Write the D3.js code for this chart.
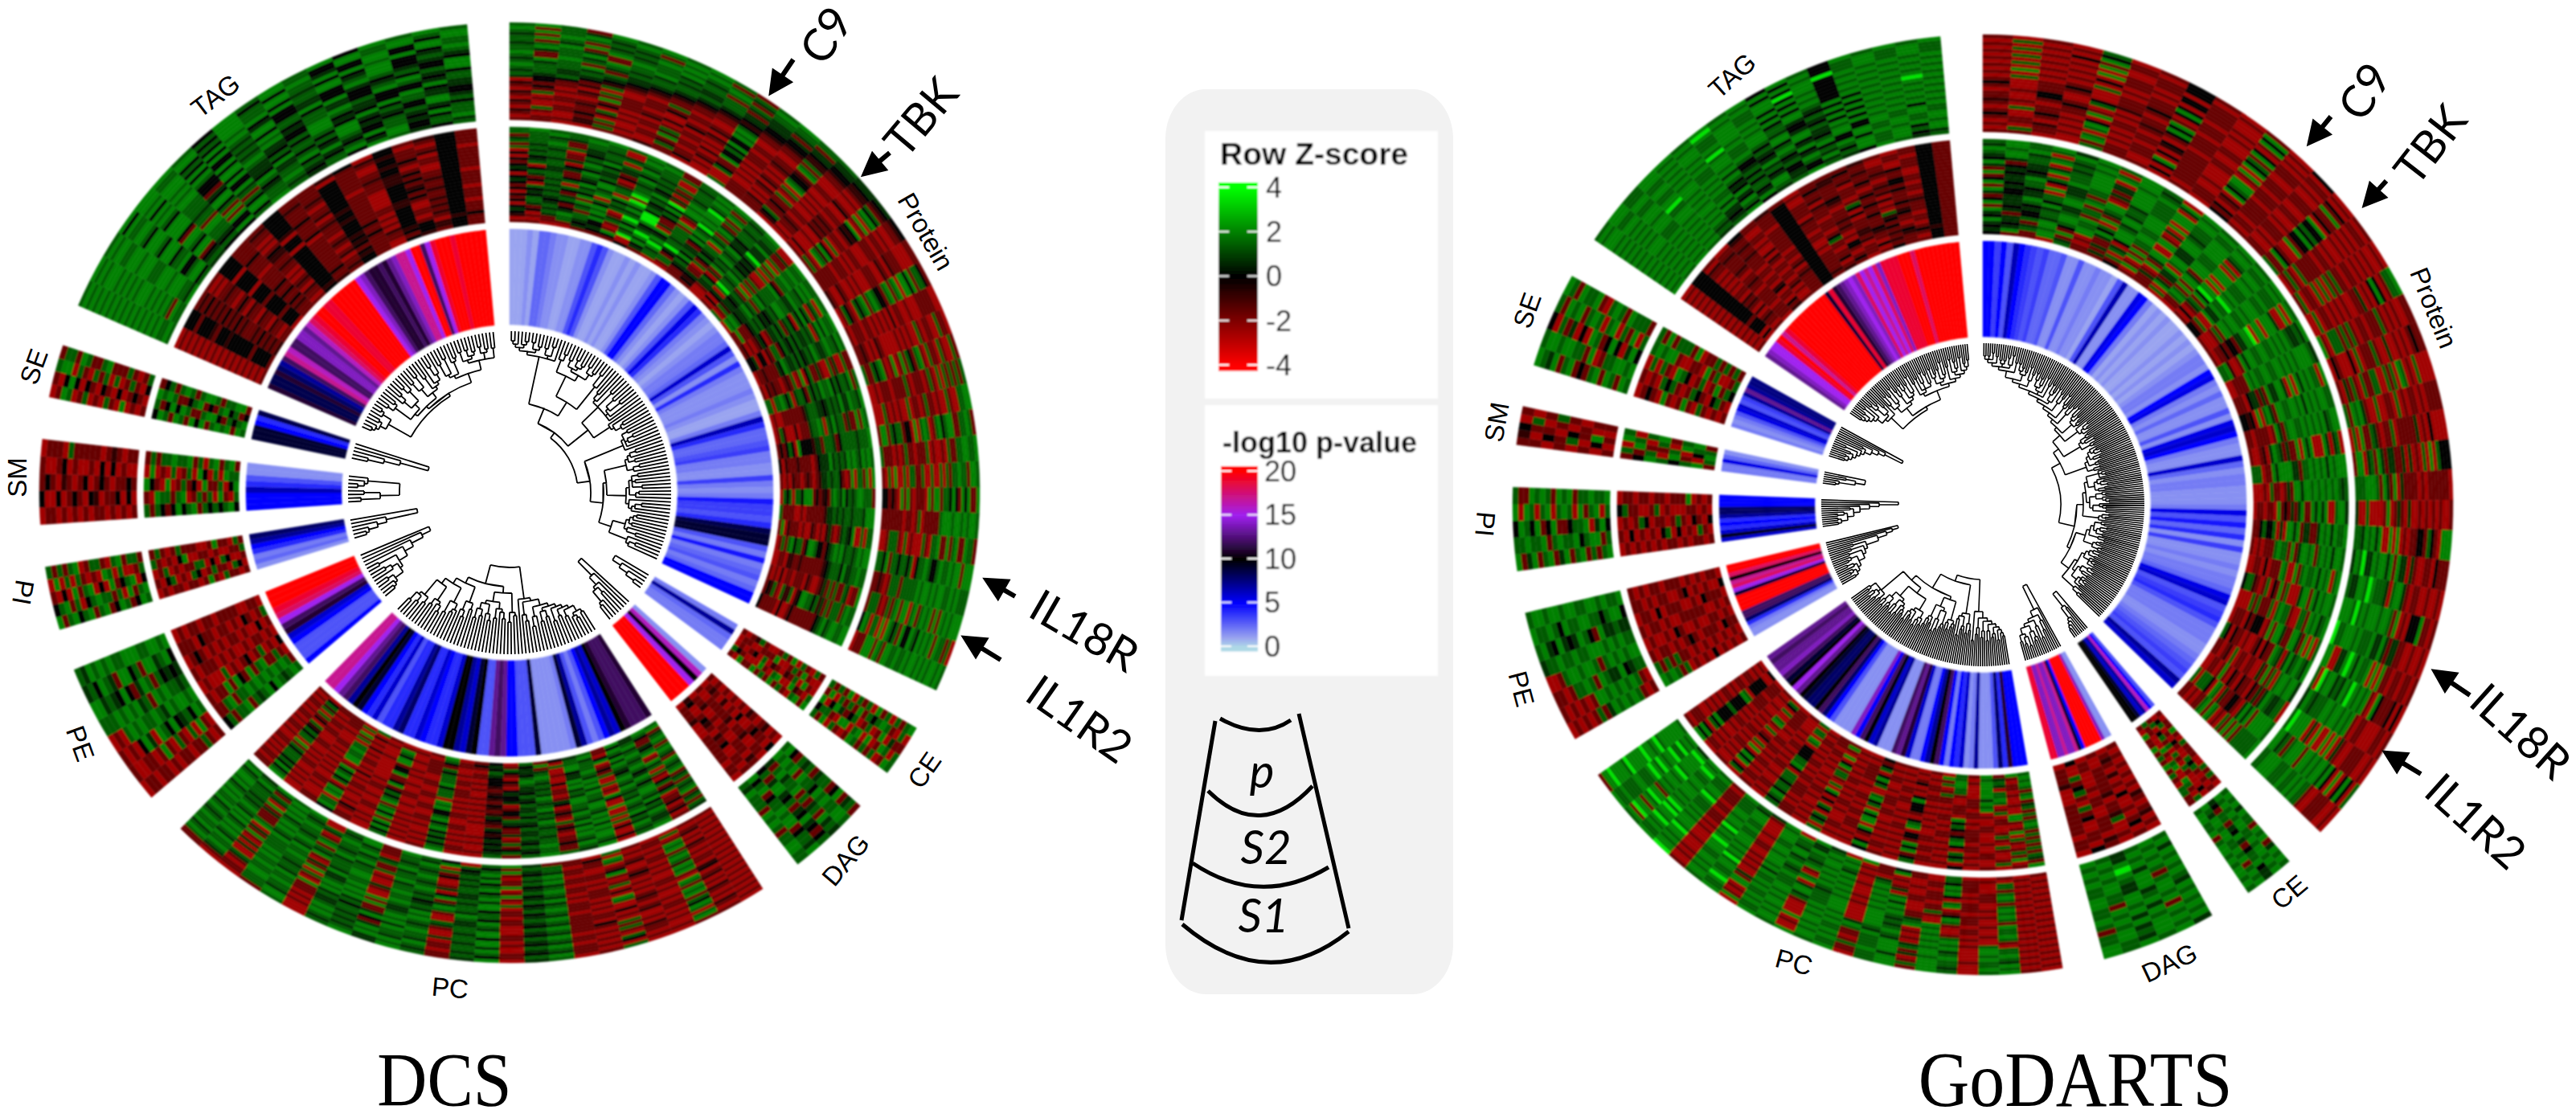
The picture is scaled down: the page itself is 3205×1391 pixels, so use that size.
<!DOCTYPE html>
<html>
<head>
<meta charset="utf-8">
<script src="https://cdnjs.cloudflare.com/ajax/libs/d3/7.8.5/d3.min.js"></script>
<style>
html, body { margin: 0; background: #fff; }
text { font-family: "Liberation Sans", sans-serif; fill: #000; }
.note { font-family: Lato, sans-serif; }
.big { font-family: "Liberation Serif", serif; }
</style>
</head>
<body>
<div id="graphs"></div>
<script>
var sectorNames = ["Protein", "CE", "DAG", "PC", "PE", "PI", "SM", "SE", "TAG"];
var zTicks = [4, 2, 0, -2, -4];
var pTicks = [20, 15, 10, 5, 0];
// z-score for each digit used in the heatmap strings below
var zLevels = [-4, -2.5, -1.6, -0.7, 0, 0.7, 1.4, 2, 3.6];

// dendrograms: merge height between neighbouring leaves, one base-36 digit each
var dcsTreeProtein = "3454363547 4637m64a57 4658465h48 r9bc6c7a6b cjdc9at9b8 abcp9bcad9 bkacbc9dab ed9bclabcb dc9hb8a";
var dcsTreeCE = "c963";
var dcsTreeDAG = "keb8a65";
var dcsTreePC = "7867a8b9c8 dac9eb8gac hrcdajbdeb gacfbdalce 9bja9c8h79 a8f79685";
var dcsTreePE = "4564975a4dgkn";
var dcsTreePI = "458bl";
var dcsTreeSM = "4a5g356";
var dcsTreeSE = "5afo";
var dcsTreeTAG = "3454743f46 5c75a46d58 4b6a947e59 4a65b47465 846585";

var godTreeProtein = "4545364756 5746385a57 687b597c68 a79b6c8d7a 9c7e8b9f7a bgac9h8bca dbcid9bacl bcedafcbnd bcaedbfcdg ceqdcbdhec dbfceidcfd cbhedcgcjb dceldcfbdc ecgdbhcdeb ckdbecfdcb dgbcaedbfc bacdbhc9a";
var godTreeCE = "f9a6543";
var godTreeDAG = "mea7c59b658a47586";
var godTreePC = "9ab8ca9db8 eb9fcah8rb dagcbf9epc bdacjbaf9c 8gacb9k8a9 7c8b9a7g89 a7b69c78a6 8i79685796 7";
var godTreePE = "5645764856 a6b7c8gjln";
var godTreePI = "565857a9cfio";
var godTreeSM = "45a7d";
var godTreeSE = "56576849a9cegm";
var godTreeTAG = "4564738a46 597bg85a69 4c68b57a69 4f7b6a85a6 9c587a6948 b6a4857948 675";

// -log10 p-values, clockwise inside each sector
var dcsPProtein = [1,1,1,1.5,1,2.5,2.5,2,1.5,1.5,1,1,1.5,1.5,3,4,3,1.5,1,1,1.5,1,1.5,1,1,1.5,3,5,5,2.5,1.5,1,1.5,3,5.5,4,2,1.5,1,1.5,2,2,2.5,6,3,1.5,4,2,1.5,1.5,1.5,2,1.5,1,1,2,6.5,4,2.5,2.5,3,3.5,2,2,1.5,1.5,3.5,2,1.5,2,4.5,3.5,3.5,3,4,8.5,9,9,3,2,4.5,2,2.5,3,2,2.5,5,5];
var dcsPCE = [2,7,2.5,2,2];
var dcsPDAG = [1.5,16,10,15,20,20,20,20];
var dcsPPC = [11,12,12,12,11,10,6,7,5,3,2,3,7,9,2,1.5,1.5,1.5,1.5,1.5,9,3,3,3,5,5,13,12,13,3,3,10,9,6,7,10,10,6,4,4,5,6,4,4,8,7,4,4,3,6,4,5,9,10,7,12,13,15,17,17];
var dcsPPE = [5,3,3,3,5,6,11,12,15,18,19,20,20,20];
var dcsPPI = [1.5,2.5,2,4,5,7,8];
var dcsPSM = [5,5,5,6.5,4,3,1.5,1.5];
var dcsPSE = [9,9,9,5,4,8.5];
var dcsPTAG = [11,8.5,8.5,11,8,7,12,17,16,12,12,14,14,13,16,18,19,20,20,19,19,20,20,20,20,20,20,15,14,12,11,11,12,11,13,14,17,17,15,20,20,12,15,19,20,20,20,19,20,20,20,20,20,20];

var godPProtein = [5,5,3.5,5,3,6.5,5,4,3.5,3,3.5,2.5,2.5,3,1.5,1.5,3,1.5,1.5,2,1.5,1.5,1,3,6.5,1.5,1.5,5.5,5,2,1,1.5,1,1.5,1,1,1.5,1,1.5,1,1.5,2,2,1.5,5,5.5,2,1.5,2.5,1.5,1.5,3,1.5,5.5,6,5,2,1.5,1.5,6,2.5,1.5,2,2,1.5,1.5,1.5,2,5.5,3,4.5,2.5,4,1.5,3.5,1.5,1.5,2,1.5,2,2,2.5,5.5,6,3,3.5,4,3,2,2,2,1.5,1.5,2,2.5,3,3.5,3,7,6];
var godPCE = [3,5,16,7,6,9,10,10];
var godPDAG = [1.5,1.5,14,20,20,20,20,20,5,9,17,14,14,17,14,14,19,19];
var godPPC = [5,5,5,11,4,8,3,1.5,1.5,1.5,7,2,1.5,6,4,5,2,5,12,10,7,5,2,2,6,11,13,12,1.5,1.5,1.5,7,6,10,12,5,14,1.5,1.5,1.5,1.5,3,5,8,12,10,8,8,9,10,13,15,10,9,12,14,13,13,12,13];
var godPPE = [1.5,1.5,2,4,8,12,12,20,20,20,20,9,15,18,17,10,18,20,20];
var godPPI = [6,9.5,6,4,5,4,7,8,8,5,5,5];
var godPSM = [2,2,5.5,2.5,1.5];
var godPSE = [2,1.5,2,3,5.5,6,3,3.5,7,13,7,7.5,7.5];
var godPTAG = [13,14,15,15,19,20,17,19,20,20,20,20,20,20,20,20,20,20,20,9,19,11,12,13,14,15,14,18,15,17,15,18,14,19,19,19,19,20,20,20,18,20,20,20,20,20,20,20,20,20,20];

// heatmaps: each string is one ring row from inside to outside, read coarsely by eye
var dcsS2Protein = [
"221122242112212612241261124216211224","112254415622411172342162241162721142","322645714662314267152311623242162232",
"415654287564421672213261342162322162","546764165725554362142362162312261322","425567257846255542242272142261273112",
"156425678654261554312262113261243261","465267546787146455532142372142162234","264456275564618566425262142271262131",
"445677184466256675164312242372123261","156524667755426556267252242272142212","445276558165675264526663241122372234",
"266441678562456725545165532242272142","415667458264567164665246654322162372","546156774267655675456726655532242272",
"425675186425676256644166725543142162","156447625677164665266445665625322162","466257684416755267544665167565543242",
"545264576725564167665254665676254362","415576265458675166456275556665165532","266445167876244676155566725456276254",
"456165455277656145667265546275566625","145576264566758625456176665146676266","466254576177545267765145667266554627",
"156267545567265766415667266755467265","665145666258665176656245567166765266","256656175665267665177565266676155667",
"667256656166755267556167255676166527","566265566167665276676156767265676166","265566176656266567165676266767167276",
"667676167267656166767225767167676267","676667676266767176676267676727676767"];
var dcsS1Protein = [
"221122321162211222312261126242162241","122361124112232162221221172142162672","211322162212241322162322172622243662",
"321261232112362112142261622142672612","162411221361122172322142261722621267","212232172241223162211262142112662167",
"311261232122142231162172261172266217","122312261321221172142321162621146672","212241122172322142261212226172666217",
"361122312241162312172122142622162676","122272231142311261221172142611246762","241322114261221312162112611222166247",
"322162212342162221171126172226116767","142311241172211322162172212621146726","544261222342172212241221262112666176",
"656432162241261121243162176172267647","565543221172342241221242261622176746","665654322162241231162122612172667276",
"766565432271231142172261221172647667","656725543261122172321172261626746746","576256654342172412261126172167267677",
"627665665432261221172612241667276767","726576566543221172311261166247767276","656726755654361112271126172676267767",
"676527665654432261271221672647676276","567276656625432172242216226727766727","625765676255543241172162126676277676",
"676256765665254361122126167647276767","527665676726554322162612667276727667","676756267656625432162216676727676726",
"726567676267665543241262766727676767","676276767626766554221126727676276716"];
var dcsS2CE = ["21162","12241","22127","31212","61412","22117","12672","12126","27312","61267","21172","72316","16212","62671","27136","12727","61212","21167"];
var dcsS1CE = ["62746","27162","61467","26721","72516","16272","62471","27612","62167","16276","74612","26176","67212","16726","62171","21562","66217","71266"];
var dcsS2DAG = ["212131","121242","231212","122312","212123","132141","212231","122121","213212","141232","312122","212142","123212","241212","321221","122122","212312","141221"];
var dcsS1DAG = ["675476","762645","476267","267576","675726","526746","676562","267467","562676","646267","672576","265472","476726","762546","267467","575267","676456","265676"];
var dcsS2PC = [
"6757265426142172112612212","7654276174254261221162241","2467156625642242172312162","5276467155461122161172231",
"6254767164252162241221162","7567164276142242171162212","6475275167441162172311261","2667465156242261221161122",
"6756257465131261141261241","7165676155422172241172212","6274167264531242171262162","5766175256441261121261131",
"2547656175432261221172142","7656175264521162141271261","6175267556142212172112242","5667167465231171221321162",
"6246756175422261242172161","7165476256431172162241212","2476175464252242141162171","5675167256641241261271221",
"6267756175532161172242162","2456175664421172121161242","6675167256251242261211261","5146675465241261172132162",
"6267157265531172242172161","7254676156142241171261242","2476167265251161221172161","5165476264642242172411242",
"6257175476251161241261172","2456167265441242172161241","6165456264652261241272162","5276175676261172161242172"];
var dcsS1PC = [
"2211261225761467276176756","1162114266246756275167567","2212272165764176256656275","1321162254275665167567656",
"2172211276156256576176567","1261321165275467656267167","2172142276246175265665766","1322172254765166276756257",
"2261221165176256657267565","1172412276246567165676256","2261221264765175266567267","1132162155275466176756276",
"2271212276156756176275667","1261132154675267565167756","2172211265176546267566176","1322172276246756175276567",
"2411261264265667165766275","1172312155167256776166756","2261211276246175267657267","1321142265275165776266176",
"2172212254165676257167565","1261321276156567265756176","2172114265176256546276567","1322162254275167765267156",
"2261221176246175465266176","1142162265176567256176667","2271321254275166567267565","1162212176156256756167276",
"2311261265176275667256167","1261142254265167756176256","2172211276246256565176222","1221162165175267576162112"];
var dcsS2PE = ["62141261","76212122","67621412","56212121","67262141","76721212","47612122","76241212","67721222","56212121","67421212","26712122","76261221","62712142","67212212","26212421","62121222","42212121"];
var dcsS1PE = ["21676547","12765476","27476567","61676457","26567676","21476276","12757627","26462767","21676547","12765276","27167476","12576727","21767456","22476567","12167676","21216547","21126765","12216756"];
var dcsS2PI = ["21262","14126","26121","21412","62612","12127","26412","72121","21621","14612","26212","21272","12146","21212","26121","14612","21226","12162"];
var dcsS1PI = ["67462","76126","42716","27612","61467","76216","42761","26172","76416","67126","26712","74621","61267","46716","72162","67416","26172","74216"];
var dcsS2SM = ["46762","71467","62176","47612","61267","46216","62741","26176","72412","61267","47626","76216","42167","26716","46126","67212","21476","62712"];
var dcsS1SM = ["21212","14412","21221","14212","22143","12212","21441","23212","14122","21412","12212","24122","12216","21341","14122","21212","21412","14221"];
var dcsS2SE = ["6742","7627","2467","7646","6276","7462","6726","2747","7627","4276","7262","2646","6727","7426","2762","6476","7264","4672"];
var dcsS1SE = ["2146","1212","2421","1262","7126","1412","2162","6212","1467","2126","1262","6412","2126","1467","6712","7476","2176","1262"];
var dcsS2TAG = [
"223212243242143242","142242132342124342","243142242232244342","142243244242234134","243242342122342242",
"142324142342141342","224142242234242242","142242342142142341","243244242232241242","142342142344141342",
"242142242242232242","142224142142234241","243242242242142342","142342242232144242","234142341242143242",
"142242214342142342","243412242232144241","142241342142232242","224142342342234142","132242412241232142",
"243242234242341242","142342142142242242","243214242242234142","142242142342142341","224142242242142242",
"142242243242232142","243142342212341242","142242242234142342"];
var dcsS1TAG = [
"667654467656476546","765466746546757465","676754476654647467","626745476765476546","767626745647546476",
"677476264675646546","767476726564754654","676747267546745476","767667654764756475","677672475466474654",
"767476745647547654","676726745467454745","776745476547654475","676776547546764456","767476276756547646",
"677676475646546754","767776446764745467","676747475467454647","767767646745476547","677476745745467454",
"767667476546757465","676776747476747456","776747476745476747","677677647676747476",
"767667467676547476","676776747647476747","767476767476476767","676777647676747676"];

var godS2Protein = [
"422162242211242261242261122141162162","572752521262141161242161221161242112","456721267212421272231161242261211261",
"545672512576161232142212161231242262","752721261257212412412321242126123161","456747257126516212572126242412421242",
"524567512752672427512572162126216712","754676747257257476261752716262421276","245676472572757257572671257212412167",
"754567676717476576257572416242412412","456752176767867576725275276726121257","257456767175767767572572572671242126",
"545676257172786767576257257126712421","745672576757176876767257572167241242","254167676757767176767725725716721241",
"746756757257176767576167257216725126","456152767176767767176767257612572412","257456167576767176767576726751267257",
"745676257176767767176767527671252572","254167576767176776757176752676716257","545767276157676767576167576726751572",
"725567576767167576767176767572576726","456157576767576167676757176757257676","576767176767676157767576157676767576",
"675656767176766757675167675767176576","767167676576767167676576767175767676","576676175767676756167675767676157676",
"676757676176767675767176576767675167"];
var godS1Protein = [
"221162212142261217126126565678765676","162122141221222612412676167576717876","212272112242126161257176156576186757",
"123161242212172216126717678767165767","221212272121241226167257165787576727","412161212132126126125267175667576767",
"214272142212212612412626157876756176","162141212172212126161572176767867576","212212232142272612621257217676757176",
"321272142162122126126125717676576727","212421212171242612261252175676767176","214212321272141221261257217567687176",
"124161242212172612212621572175676767","212143272122242212612125217675767176","412212142171261221261252125767176767",
"212412272212142122126212515725767176","161212421272141252161252121572172576","212161212142271212512212125215721252",
"171212242161212126171221242125212171","212141272121241212162512141212272141","161212141272122141212161221242141212",
"212172212142121272121212162141221272","161212142212272141212172242141221212","212171242121121212161412121272121242",
"161421212172242121212162214121242171","212172242141212161412142172121212141","161242141272121262212142172212141212",
"212161242121412172212141272121212161"];
var godS2CE = ["21262","14621","26127","21412","72612","21217","14672","62126","21612","21267","26172","14616","16212","62171","21166","62126","21412","12162"];
var godS1CE = ["67576","76467","67257","76676","57676","76267","67572","67476","26767","76567","67276","76467","27676","57627","76767","67476","76567","67576"];
var godS2DAG = ["212141","121212","231212","122162","212123","132141","212261","122121","213212","141262","312122","212142","123212","216212","321221","141122","212312","121241"];
var godS1DAG = ["676567","767576","576767","767876","675767","767676","627576","767567","675767","576726","767676","675767","727576","676762","767576","677676","767567","576767"];
var godS2PC = [
"6727261212241122162112141","7256167121122272211261212","6167272212241122161242211","7257176121162211261211242",
"6217161242212172211261241","2167162211242212172212142","6267126122172141261211242","7175212212142272112161241",
"2167212241261121241272212","5216221172112262142121262","6127122242211261242112171","2161221141261121241261242",
"6712212241272212162212141","2721172122142161261121242","6221241211261212172242142","7112162142212171241212261",
"6212241261171242212161242","2721222172142212162212141","6161242112272141261171242","2621261241171212261212141",
"6212172242212161242242172","2161241121172141261171241","6221212272242112161242161","2612161241121261242171212",
"6212242172212242172212142","5721161221241161261241272","2161212242172212242161241","7212141161241161261212172"];
var godS1PC = [
"2121161242715717567267576","1212261272176576256176767","2161242112267567176267877","1261272121176767176268767",
"2121261215267657176267787","1262172126157676167276767","2172242157176576267176767","1262112216267657176267787",
"2121261267176767167287676","1261272176167276267176878","2172212157176167276267767","1261126176267657178267676",
"2172242267176767176267787","1261271276265176267176767","2121261567176567176267678","1272127657176765267176787",
"2161216767176767178267677","1261217157176576267178267","2172126267167676187176767","1261267176576267167178767",
"2121176265767176576267878","1216267157676167276187676","2167176576267176767176767","1267157676267176767178267",
"2176167276176767176267767","1267176576267176287176767","2156267157676267176267878","1276167276267176267176267",
"2167157676267176767176767","1276167276176767176287672"];
var godS2PE = ["21212141","12221212","21412212","12121221","21221412","12212121","41212212","12122141","21212122","12412212","21221212","12141221","62212122","26121412","62212121","76212212","62121221","76212122"];
var godS1PE = ["21676547","12676576","26567676","67476567","76767546","67576767","76567267","67627476","76767676","57276767","27676567","62767476","21676547","12676767","21267476","12126567","21216767","12215676"];
var godS2PI = ["21412","12121","26212","21421","12127","21212","14612","21212","26121","14212","21262","12121","21412","12612","21221","14122","21262","12141"];
var godS1PI = ["76467","62716","27576","67167","26726","74676","67612","26467","76276","57267","26712","72476","67267","26716","76467","57672","26712","76476"];
var godS2SM = ["26762","71467","62176","47612","61267","76216","42761","26176"];
var godS1SM = ["21212","14712","21221","16412","22126","14212","21261","23412"];
var godS2SE = ["21462","12626","26212","14716","21262","62126","14672","26212","72121","21427","12612","26716","74126","16276","21672","42167","21672","12166"];
var godS1SE = ["67462","76716","27576","67126","76467","26712","72476","61267","27616","42761","26172","76467","67126","27576","76267","57672","67126","76467"];
var godS2TAG = [
"212132242321242242","141221243242122142","212241242122432242","142212242412123432","243221242221234242",
"142123242243222142","241212342142341242","123241242213422242","241232141223242142","142212342612234242",
"243221241422263242","142122141232412242","243212242121224342","141221242234212242","242322141221432142",
"142213242224212242","241221242126234242","142123242212422142","241221243221234242","142321241232124242",
"241232242342212142","142221242122422142","241222142321234242","142232242223221242",
"242321241222321242","143221241432212142","241232242234212242","142142321222321242"];
var godS1TAG = [
"767656745676547656","676765476545676745","767654657547476767","676765747465676747","767675465476747676",
"676767564654476767","767675746547476767","676767465476747676","767676547654747676","676776465745676747",
"767667654675747676","676776745476476767","776767546754747676","676776764745476767","767667676546747676",
"677676767654476767","767876767675747676","676776767476476787","767767676747467676","677676867476476767",
"767667676747467676","676776777476476767","776767676747467676","767677676787476767","767667676747867676",
"676776767476467676","776767876747467676","676776767476476767"];

var dcsTrees = [dcsTreeProtein, dcsTreeCE, dcsTreeDAG, dcsTreePC, dcsTreePE, dcsTreePI, dcsTreeSM, dcsTreeSE, dcsTreeTAG];
var dcsP = [dcsPProtein, dcsPCE, dcsPDAG, dcsPPC, dcsPPE, dcsPPI, dcsPSM, dcsPSE, dcsPTAG];
var dcsS2 = [dcsS2Protein, dcsS2CE, dcsS2DAG, dcsS2PC, dcsS2PE, dcsS2PI, dcsS2SM, dcsS2SE, dcsS2TAG];
var dcsS1 = [dcsS1Protein, dcsS1CE, dcsS1DAG, dcsS1PC, dcsS1PE, dcsS1PI, dcsS1SM, dcsS1SE, dcsS1TAG];
var godTrees = [godTreeProtein, godTreeCE, godTreeDAG, godTreePC, godTreePE, godTreePI, godTreeSM, godTreeSE, godTreeTAG];
var godP = [godPProtein, godPCE, godPDAG, godPPC, godPPE, godPPI, godPSM, godPSE, godPTAG];
var godS2 = [godS2Protein, godS2CE, godS2DAG, godS2PC, godS2PE, godS2PI, godS2SM, godS2SE, godS2TAG];
var godS1 = [godS1Protein, godS1CE, godS1DAG, godS1PC, godS1PE, godS1PI, godS1SM, godS1SE, godS1TAG];

var svg = d3.select("#graphs").append("svg")
	.attr("width", 3205)
	.attr("height", 1391)
	.style("display", "block");

svg.append("defs").append("filter")
	.attr("id", "soft")
	.append("feGaussianBlur")
	.attr("stdDeviation", 0.8);

var zColor = d3.scaleLinear()
	.domain([-4, -2, 0, 2, 4])
	.range(["#ff0000", "#800000", "#000000", "#008000", "#00ff00"]);
var pColor = d3.scaleLinear()
	.domain([0, 1, 5, 10, 15, 20])
	.range(["#add8e6", "#9aa4f0", "#0000ff", "#000000", "#a020f0", "#ff0000"]);

var radiusOf = d3.scaleLinear().domain([0, 35]).range([201, 61]);
var arc = d3.arc();
var rad = Math.PI / 180;

function parseGaps(s) {
	return s.replace(/ /g, "").split("").map(function(c) { return parseInt(c, 36); });
}

// split at the highest merge until only leaves are left
function buildNode(gaps, lo, hi) {
	if (lo === hi) return {leaf: lo, h: 0};
	var k = lo;
	for (var i = lo; i < hi; i++) {
		if (gaps[i] > gaps[k]) k = i;
	}
	var a = buildNode(gaps, lo, k),
		b = buildNode(gaps, k + 1, hi);
	return {leaf: (a.leaf + b.leaf) / 2, h: gaps[k], kids: [a, b]};
}

function drawTree(path, node, angle) {
	if (!node.kids) return;
	var r = radiusOf(node.h);
	var a0 = angle(node.kids[0].leaf), a1 = angle(node.kids[1].leaf);
	path.arc(0, 0, r, a0 - Math.PI / 2, a1 - Math.PI / 2);
	node.kids.forEach(function(kid) {
		var p0 = d3.pointRadial(angle(kid.leaf), r),
			p1 = d3.pointRadial(angle(kid.leaf), radiusOf(kid.h));
		path.moveTo(p0[0], p0[1]);
		path.lineTo(p1[0], p1[1]);
		drawTree(path, kid, angle);
	});
}

function drawHeat(g, rows, a0, a1, r0, r1) {
	var y = d3.scaleLinear().domain([0, rows.length]).range([r0, r1]);
	rows.forEach(function(row, i) {
		var x = d3.scaleLinear().domain([0, row.length]).range([a0, a1]);
		g.selectAll(null)
			.data(row.split(""))
			.enter().append("path")
			.attr("d", function(d, j) {
				return arc({innerRadius: y(i), outerRadius: y(i + 1), startAngle: x(j), endAngle: x(j + 1)});
			})
			.attr("fill", function(d) { return zColor(zLevels[+d]); })
			.attr("stroke", function(d) { return zColor(zLevels[+d]); })
			.attr("stroke-width", 0.4);
	});
}

function drawCircle(cx, cy, treeStrings, pValues, s2, s1, strokeWidth) {
	var root = svg.append("g").attr("transform", "translate(" + cx + "," + cy + ")");
	var g = root.append("g").attr("filter", "url(#soft)");
	var gaps = treeStrings.map(parseGaps);
	var step = (360 - 9 * 5.2) / d3.sum(gaps, function(d) { return d.length + 1; }) * rad;
	var pos = 0;

	gaps.forEach(function(gap, s) {
		var n = gap.length + 1;
		var a0 = pos, a1 = pos + n * step;
		pos = a1 + 5.2 * rad;

		var bar = d3.scaleLinear().domain([0, pValues[s].length]).range([a0, a1]);
		g.append("g").selectAll("path")
			.data(pValues[s])
			.enter().append("path")
			.attr("d", function(d, i) {
				return arc({innerRadius: 209, outerRadius: 328, startAngle: bar(i), endAngle: bar(i + 1)});
			})
			.attr("fill", function(d) { return pColor(d); })
			.attr("stroke", function(d) { return pColor(d); })
			.attr("stroke-width", 0.4);

		drawHeat(g.append("g"), s2[s], a0, a1, 337, 455);
		drawHeat(g.append("g"), s1[s], a0, a1, 464, 585);

		var leafAngle = d3.scaleLinear().domain([-0.5, n - 0.5]).range([a0, a1]);
		var path = d3.path();
		drawTree(path, buildNode(gap, 0, n - 1), leafAngle);
		root.append("path")
			.attr("d", path.toString())
			.attr("fill", "none")
			.attr("stroke", "#000")
			.attr("stroke-width", strokeWidth);
	});
}

drawCircle(634, 613, dcsTrees, dcsP, dcsS2, dcsS1, 1.8);
drawCircle(2467, 628, godTrees, godP, godS2, godS1, 1.6);

// sector labels: x, y, rotation
var dcsLabelSpots = [[1152, 288, 60], [1150, 958, -55], [1052, 1070, -50], [560, 1229, 5], [100, 925, 70], [29, 737, 100], [21, 594, -90], [42, 456, -70], [268, 119, -37]];
var godLabelSpots = [[3028, 383, 68], [2848, 1110, -40], [2699, 1198, -25], [2232, 1197, 15], [1893, 857, 75], [1848, 652, 95], [1862, 525, -80], [1900, 386, -70], [2155, 94, -42]];

function drawLabels(spots) {
	svg.append("g").selectAll("text")
		.data(spots)
		.enter().append("text")
		.attr("transform", function(d) { return "translate(" + d[0] + "," + d[1] + ") rotate(" + d[2] + ")"; })
		.attr("text-anchor", "middle")
		.attr("dy", ".35em")
		.attr("font-size", 33)
		.text(function(d, i) { return sectorNames[i]; });
}
drawLabels(dcsLabelSpots);
drawLabels(godLabelSpots);

// arrows with protein names: name, text x, y, rotation, arrow tail x, y, tip x, y
var proteinNotes = [
	["C9", 1028, 44, -57, 987, 74, 960, 114],
	["TBK", 1146, 146, -50, 1107, 190, 1076, 216],
	["IL18R", 1349, 785, 30, 1263, 742, 1228, 722],
	["IL1R2", 1343, 895, 35, 1245, 821, 1201, 794],
	["C9", 2942, 114, -58, 2900, 145, 2874, 177],
	["TBK", 3024, 180, -52, 2969, 225, 2943, 254],
	["IL18R", 3136, 910, 42, 3073, 865, 3030, 836],
	["IL1R2", 3080, 1022, 42, 3012, 963, 2969, 937]
];

var notes = svg.append("g").selectAll("g")
	.data(proteinNotes)
	.enter().append("g");
notes.append("text")
	.attr("class", "note")
	.attr("transform", function(d) { return "translate(" + d[1] + "," + d[2] + ") rotate(" + d[3] + ")"; })
	.attr("text-anchor", "middle")
	.attr("dy", ".35em")
	.attr("font-size", 56)
	.text(function(d) { return d[0]; });
notes.append("path")
	.attr("d", function(d) {
		var dx = d[6] - d[4], dy = d[7] - d[5], len = Math.sqrt(dx * dx + dy * dy);
		var ux = dx / len, uy = dy / len;
		var bx = d[6] - ux * 22, by = d[7] - uy * 22;
		return "M" + d[4] + "," + d[5] + "L" + bx + "," + by +
			"M" + d[6] + "," + d[7] + "L" + (bx - uy * 11) + "," + (by + ux * 11) +
			"L" + (bx + uy * 11) + "," + (by - ux * 11) + "Z";
	})
	.attr("fill", "#000")
	.attr("stroke", "#000")
	.attr("stroke-width", 6);

svg.append("text").attr("class", "big")
	.attr("transform", "translate(553,1376) scale(1,1.1)")
	.attr("text-anchor", "middle")
	.attr("font-size", 86)
	.text("DCS");
svg.append("text").attr("class", "big")
	.attr("transform", "translate(2582,1376) scale(1,1.1)")
	.attr("text-anchor", "middle")
	.attr("font-size", 88)
	.text("GoDARTS");

// legend panel
var legend = svg.append("g");
legend.append("rect")
	.attr("x", 1450).attr("y", 111)
	.attr("width", 358).attr("height", 1126)
	.attr("rx", 50).attr("ry", 62)
	.attr("fill", "#f2f2f2");

function drawKey(top, height, title, titleSize, titleY, barX, barW, barTop, barBottom, ticks, color, textX) {
	var key = legend.append("g").attr("filter", "url(#soft)");
	var y = d3.scaleLinear().domain(d3.extent(ticks).reverse()).range([barTop, barBottom]);
	key.append("rect")
		.attr("x", 1499).attr("y", top)
		.attr("width", 290).attr("height", height)
		.attr("fill", "#fff");
	key.append("text")
		.attr("x", barX + 2).attr("y", titleY)
		.attr("font-size", titleSize)
		.attr("font-weight", "bold")
		.text(title);
	key.selectAll(".cell")
		.data(d3.range(barTop - 6, barBottom + 6, 2))
		.enter().append("rect")
		.attr("class", "cell")
		.attr("x", barX).attr("y", function(d) { return d; })
		.attr("width", barW).attr("height", 2.5)
		.attr("fill", function(d) { return color(y.clamp(true).invert(d)); });
	ticks.forEach(function(t) {
		[barX, barX + barW - 13].forEach(function(x) {
			key.append("rect")
				.attr("x", x).attr("y", y(t) - 1)
				.attr("width", 13).attr("height", 2)
				.attr("fill", "#fff");
		});
		key.append("text")
			.attr("x", textX).attr("y", y(t))
			.attr("dy", ".36em")
			.attr("font-size", 36)
			.attr("fill", "#222")
			.text(t);
	});
}
drawKey(163, 333, "Row Z-score", 39, 205, 1516, 49, 233, 454, zTicks, zColor, 1575);
drawKey(504, 337, "-log10 p-value", 36, 563, 1519, 46, 586, 804, pTicks, pColor, 1573);

// small sketch of the ring order
var sketchLines = [
	"M1512,897L1470,1145", "M1616,888L1678,1155",
	"M1518,894Q1568,922 1606,896", "M1503,984Q1568,1048 1633,978",
	"M1484,1074Q1568,1130 1653,1079", "M1471,1150Q1577,1240 1678,1159"
];
legend.selectAll(".sketch")
	.data(sketchLines)
	.enter().append("path")
	.attr("class", "sketch")
	.attr("d", function(d) { return d; })
	.attr("fill", "none")
	.attr("stroke", "#000")
	.attr("stroke-width", 5);
[["p", 1570, 980], ["S2", 1575, 1075], ["S1", 1572, 1160]].forEach(function(d) {
	legend.append("text")
		.attr("class", "note")
		.attr("x", d[1]).attr("y", d[2])
		.attr("text-anchor", "middle")
		.attr("font-size", 58)
		.attr("font-style", "italic")
		.text(d[0]);
});
</script>
</body>
</html>
